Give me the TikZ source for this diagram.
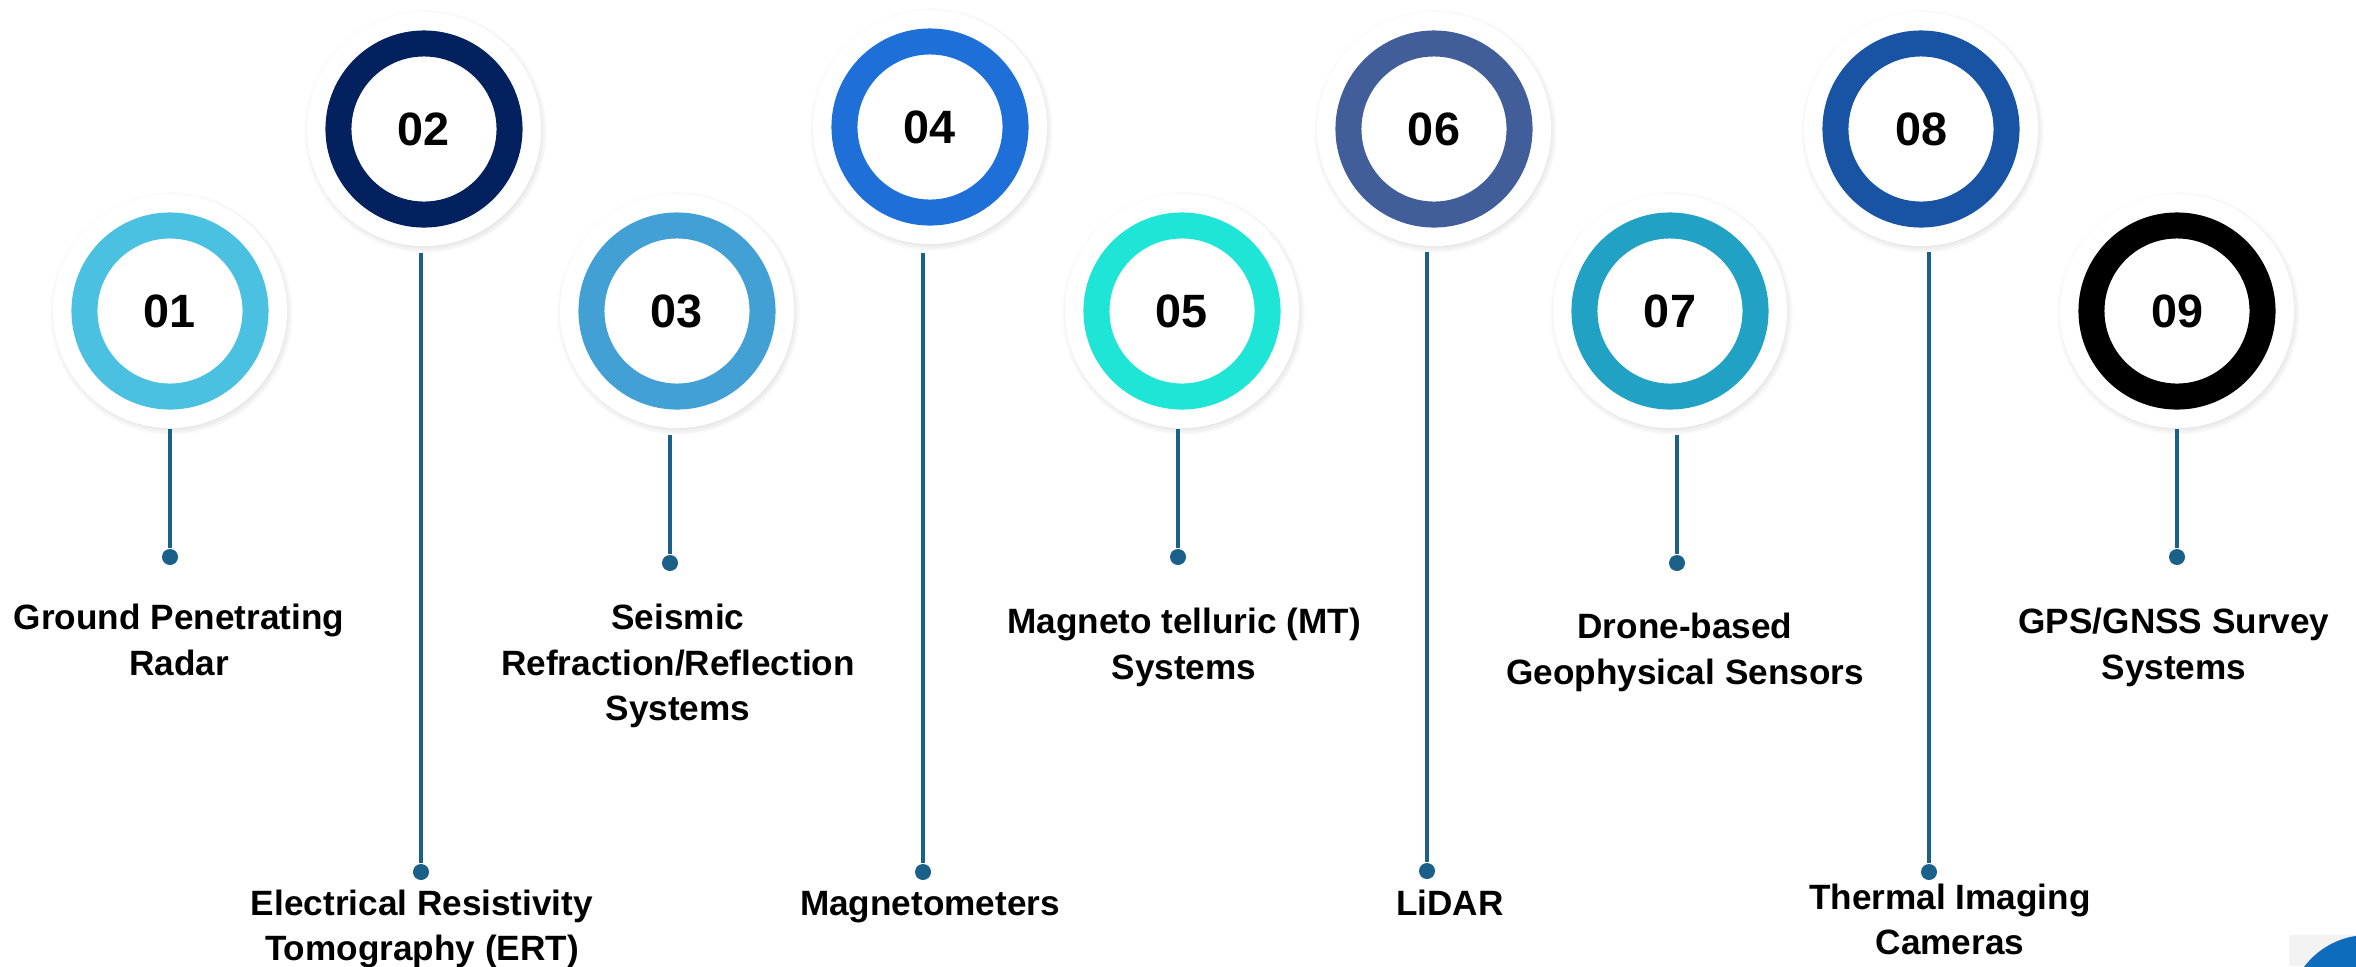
\documentclass[tikz,border=0pt]{standalone}
\usepackage{fontspec}
\setmainfont{Liberation Sans}
\usetikzlibrary{shadows}

\definecolor{cOne}{RGB}{74,193,225}
\definecolor{cTwo}{RGB}{3,33,94}
\definecolor{cThree}{RGB}{67,160,212}
\definecolor{cFour}{RGB}{31,111,217}
\definecolor{cFive}{RGB}{30,229,214}
\definecolor{cSix}{RGB}{65,93,154}
\definecolor{cSeven}{RGB}{33,161,195}
\definecolor{cEight}{RGB}{24,83,164}
\definecolor{cNine}{RGB}{0,0,0}
\definecolor{stemcol}{RGB}{26,96,137}
\definecolor{logoblue}{RGB}{15,108,189}
\definecolor{logogrey}{RGB}{243,243,243}

\tikzset{
  disc/.style={circle, fill=white, inner sep=0pt, minimum size=2.34cm,
    circular drop shadow={shadow scale=1.04, shadow xshift=0.3pt,
      shadow yshift=-0.6pt, opacity=0.45}},
  ring/.style={circle, draw=#1, line width=0.26cm, inner sep=0pt,
    minimum size=1.71cm, font=\fontsize{13.3}{16}\selectfont\bfseries},
  dot/.style={circle, fill=stemcol, inner sep=0pt, minimum size=0.16cm},
  stem/.style={draw=stemcol, line width=0.04cm},
  lbl/.style={anchor=base, align=center, inner sep=0pt,
    font=\fontsize{10}{12.8}\selectfont\bfseries}
}

\begin{document}
\begin{tikzpicture}[x=0.01cm, y=-0.01cm]
\useasboundingbox (0,0) rectangle (2356,966);
\clip (0,0) rectangle (2356,966);

% badges
\node[disc] (c1) at (170,311) {};
\node[ring=cOne] (n1) at (c1) {01};
\node[disc] (c2) at (424,129) {};
\node[ring=cTwo] (n2) at (c2) {02};
\node[disc] (c3) at (677,311) {};
\node[ring=cThree] (n3) at (c3) {03};
\node[disc] (c4) at (930,127) {};
\node[ring=cFour] (n4) at (c4) {04};
\node[disc] (c5) at (1182,311) {};
\node[ring=cFive] (n5) at (c5) {05};
\node[disc] (c6) at (1434,129) {};
\node[ring=cSix] (n6) at (c6) {06};
\node[disc] (c7) at (1670,311) {};
\node[ring=cSeven] (n7) at (c7) {07};
\node[disc] (c8) at (1921,129) {};
\node[ring=cEight] (n8) at (c8) {08};
\node[disc] (c9) at (2177,311) {};
\node[ring=cNine] (n9) at (c9) {09};

% stems
\coordinate (t1) at (170,429);
\coordinate (t2) at (421,253);
\coordinate (t3) at (670,435);
\coordinate (t4) at (923,253);
\coordinate (t5) at (1178,429);
\coordinate (t6) at (1427,252);
\coordinate (t7) at (1677,435);
\coordinate (t8) at (1929,252);
\coordinate (t9) at (2177,429);
\node[dot] (d1) at (170,557) {};
\node[dot] (d2) at (421,872) {};
\node[dot] (d3) at (670,563) {};
\node[dot] (d4) at (923,872) {};
\node[dot] (d5) at (1178,557) {};
\node[dot] (d6) at (1427,871) {};
\node[dot] (d7) at (1677,563) {};
\node[dot] (d8) at (1929,872) {};
\node[dot] (d9) at (2177,557) {};
\draw[stem] (t1) -- (d1);
\draw[stem] (t2) -- (d2);
\draw[stem] (t3) -- (d3);
\draw[stem] (t4) -- (d4);
\draw[stem] (t5) -- (d5);
\draw[stem] (t6) -- (d6);
\draw[stem] (t7) -- (d7);
\draw[stem] (t8) -- (d8);
\draw[stem] (t9) -- (d9);

% labels (base = last line)
\node[lbl] (l1) at (179,675) {Ground Penetrating\\Radar};
\node[lbl] (l2) at (422,960) {Electrical Resistivity\\Tomography (ERT)};
\node[lbl] (l3) at (678,720) {Seismic\\Refraction/Reflection\\Systems};
\node[lbl] (l4) at (930,915) {Magnetometers};
\node[lbl] (l5) at (1184,679) {Magneto telluric (MT)\\Systems};
\node[lbl] (l6) at (1450,915) {LiDAR};
\node[lbl] (l7) at (1685,684) {Drone-based\\Geophysical Sensors};
\node[lbl] (l8) at (1950,954) {Thermal Imaging\\Cameras};
\node[lbl] (l9) at (2174,679) {GPS/GNSS Survey\\Systems};

% corner mark
\fill[logogrey] (2289,935) rectangle (2356,966);
\fill[logoblue] (2368,1015) circle (80);
\end{tikzpicture}
\end{document}
